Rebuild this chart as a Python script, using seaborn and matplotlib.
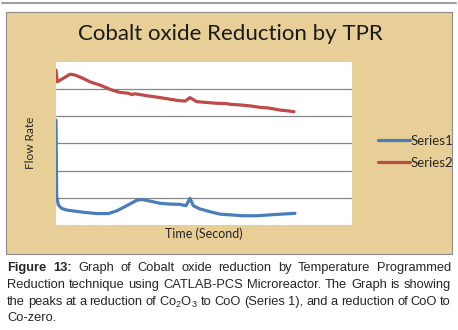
import pandas as pd
import matplotlib
matplotlib.use("Agg")
import matplotlib.pyplot as plt
import seaborn as sns
from matplotlib.patches import Rectangle
from matplotlib.lines import Line2D

# Series 1: Co2O3 -> CoO  (arbitrary time units)
s1_time = [0, 0.7, 2.3, 5.7, 10.7, 27.3, 40.7, 52.3, 60.7, 70.7, 80.7, 85.7, 94,
           104, 114, 124, 130, 134, 137.3, 144, 154, 164, 187.3, 200.7, 220.7, 239]
s1_flow = [3.86, 1.04, 0.74, 0.61, 0.55, 0.47, 0.42, 0.42, 0.52, 0.71, 0.91, 0.94, 0.88,
           0.80, 0.77, 0.76, 0.71, 0.98, 0.71, 0.59, 0.49, 0.40, 0.34, 0.34, 0.39, 0.43]

# Series 2: CoO -> Co
s2_time = [0, 1.3, 7.3, 14, 19, 25.7, 34, 44, 55.7, 64, 72.3, 75.7, 79, 90.7, 104,
           120.7, 129, 134, 140.7, 160.7, 170, 175, 184, 195, 204, 212, 218, 224, 230, 238]
s2_flow = [5.70, 5.27, 5.40, 5.55, 5.52, 5.42, 5.27, 5.15, 4.97, 4.88, 4.85, 4.80, 4.83,
           4.76, 4.69, 4.59, 4.56, 4.69, 4.54, 4.48, 4.47, 4.44, 4.42, 4.38, 4.33, 4.31,
           4.27, 4.23, 4.21, 4.17]

title = "Cobalt oxide Reduction by TPR"
caption_lines = [
    ["Figure", "13:", "Graph", "of", "Cobalt", "oxide", "reduction", "by", "Temperature", "Programmed"],
    ["Reduction", "technique", "using", "CATLAB-PCS", "Microreactor.", "The", "Graph", "is", "showing"],
    ["the", "peaks", "at", "a", "reduction", "of", "Co$_2$O$_3$", "to", "CoO", "(Series", "1),",
     "and", "a", "reduction", "of", "CoO", "to"],
    ["Co-zero."],
]

W, H = 458, 330
sns.set_style("white")
plt.rcParams['font.family'] = ['Lato', 'DejaVu Sans']
plt.rcParams['mathtext.fontset'] = 'custom'
plt.rcParams['mathtext.rm'] = 'Liberation Sans'
plt.rcParams['mathtext.default'] = 'regular'

fig = plt.figure(figsize=(W / 100, H / 100), dpi=100)
fig.patch.set_facecolor("white")

def fx(px):
    return px / W

def fy(py):
    return 1 - py / H

# page frame line and parchment chart area
fig.add_artist(Line2D([fx(2), fx(456)], [fy(3), fy(3)], color="#a0a0a0", lw=1.5))
fig.add_artist(Rectangle((fx(5.5), fy(254)), fx(446.5), (254 - 12) / H,
                         facecolor="#e8cf97", edgecolor="#8c8c8c", lw=0.8, zorder=-5))

ax = fig.add_axes([fx(56), fy(225), fx(296), 163 / H])
ax.set_facecolor("white")

df1 = pd.DataFrame({"time": s1_time, "flow": s1_flow})
df2 = pd.DataFrame({"time": s2_time, "flow": s2_flow})
sns.lineplot(data=df1, x="time", y="flow", ax=ax, color="#4a7ebb", linewidth=2.3,
             label="Series1", sort=False, solid_joinstyle="round")
sns.lineplot(data=df2, x="time", y="flow", ax=ax, color="#be4b48", linewidth=2.3,
             label="Series2", sort=False, solid_joinstyle="round")

ax.set_xlim(0, 296)
ax.set_ylim(0, 6)
ax.set_yticks([1, 2, 3, 4, 5])
ax.set_xticks([])
ax.tick_params(left=False, labelleft=False)
ax.grid(axis="y", color="#868686", linewidth=0.9)
for sp in ax.spines.values():
    sp.set_visible(False)
ax.set_xlabel("")
ax.set_ylabel("")

leg = ax.legend(loc="center left", bbox_to_anchor=(fx(366), fy(152)),
                bbox_transform=fig.transFigure, frameon=False, fontsize=9.5,
                handlelength=2.4, handletextpad=0.05, labelspacing=0.75)
for line in leg.get_lines():
    line.set_linewidth(2.3)

fig.text(fx(230), fy(34), title, ha="center", va="center", fontsize=16, color="#1a1a1a")
fig.text(fx(30), fy(143), "Flow Rate", ha="center", va="center", rotation=90, fontsize=8.5)
fig.text(fx(204), fy(234), "Time (Second)", ha="center", va="center", fontsize=9)

# justified caption
renderer = fig.canvas.get_renderer()
x0, x1 = 7, 451
line_y = [268, 285, 302, 318]
for i, words in enumerate(caption_lines):
    texts = []
    for j, w in enumerate(words):
        bold = (i == 0 and j < 2)
        t = fig.text(0, fy(line_y[i]), w, ha="left", va="center", fontsize=9.3,
                     family="Liberation Sans", fontweight="bold" if bold else "normal")
        texts.append(t)
    widths = [t.get_window_extent(renderer).width for t in texts]
    if i == len(caption_lines) - 1:
        gap = 3.0
    else:
        gap = max(2.0, (x1 - x0 - sum(widths)) / (len(words) - 1))
    x = x0
    for t, w in zip(texts, widths):
        t.set_x(fx(x))
        x += w + gap

fig.savefig("out.png", dpi=100)
